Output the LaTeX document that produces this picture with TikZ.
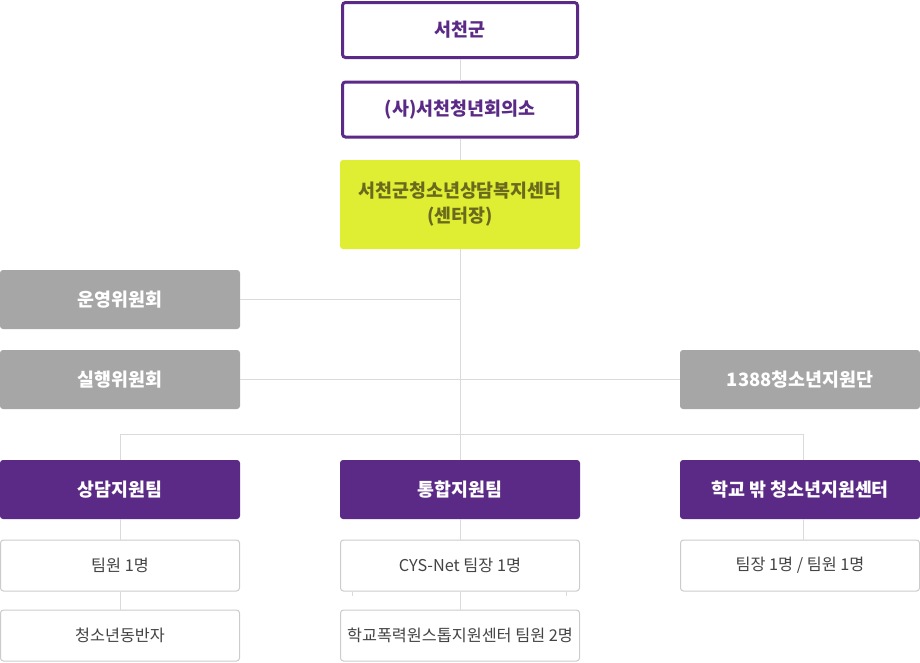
\documentclass[tikz,border=0pt]{standalone}
\usepackage{fontspec}
\setmainfont{Noto Sans CJK KR}
\usetikzlibrary{calc}
\definecolor{purp}{HTML}{5B2A86}
\definecolor{yel}{HTML}{E0EE33}
\definecolor{olive}{HTML}{6A6A1E}
\definecolor{grayb}{HTML}{A6A6A6}
\definecolor{lin}{HTML}{DADADA}
\definecolor{wbd}{HTML}{CCCCCC}
\definecolor{txt}{HTML}{444444}
\tikzset{
  base/.style={rectangle, rounded corners=2.25pt, inner sep=0pt, align=center},
  topbox/.style={base, draw=purp, line width=2.25pt, fill=white, text=purp,
     minimum width=176.25pt, minimum height=41.25pt, font=\fontsize{13.8}{16}\selectfont\bfseries},
  yelbox/.style={base, fill=yel, text=olive, minimum width=180pt, minimum height=66.75pt,
     font=\fontsize{13.8}{18.75}\selectfont\bfseries},
  graybox/.style={base, fill=grayb, text=white, minimum width=180pt, minimum height=44.25pt,
     font=\fontsize{13.8}{16}\selectfont\bfseries},
  teambox/.style={base, fill=purp, text=white, minimum width=180pt, minimum height=44.25pt,
     font=\fontsize{13.8}{16}\selectfont\bfseries},
  membox/.style={base, draw=wbd, line width=0.75pt, fill=white, text=txt,
     minimum width=179.25pt, minimum height=38.25pt, font=\fontsize{12.2}{14}\selectfont},
  conn/.style={draw=lin, line width=0.75pt}
}
\begin{document}
\begin{tikzpicture}[x=0.75pt,y=-0.75pt]
\useasboundingbox (0,0) rectangle (920,662);
\node[topbox] (b1) at (460,30) {서천군};
\node[topbox] (b2) at (460,109.5) {(사)서천청년회의소};
\node[yelbox] (b3) at (460,204.5) {서천군청소년상담복지센터\\(센터장)};
\node[graybox] (g1) at (120,299.5) {운영위원회};
\node[graybox] (g2) at (120,379.5) {실행위원회};
\node[graybox] (g3) at (800,379.5) {1388청소년지원단};
\node[teambox] (t1) at (120,489.5) {상담지원팀};
\node[teambox] (t2) at (460,489.5) {통합지원팀};
\node[teambox] (t3) at (800,489.5) {학교 밖 청소년지원센터};
\node[membox] (w1) at (120,565.5) {팀원 1명};
\node[membox] (w2) at (460,565.5) {CYS-Net 팀장 1명};
\node[membox] (w3) at (800,565.5) {팀장 1명 / 팀원 1명};
\node[membox] (d1) at (120,635.5) {청소년동반자};
\node[membox] (d2) at (460,635.5) {학교폭력원스톱지원센터 팀원 2명};
\coordinate (j) at (460,434);
\draw[conn] (b1.south) -- (b2.north);
\draw[conn] (b2.south) -- (b3.north);
\draw[conn] (b3.south) -- (t2.north);
\draw[conn] (g1.east) -- (g1.east -| b3.south);
\draw[conn] (g2.east) -- (g3.west);
\draw[conn] (t1.north) |- ([xshift=2.25pt]t3.north |- j) -- ([xshift=2.25pt]t3.north);
\draw[conn] (t1.south) -- (w1.north);
\draw[conn] (w1.south) -- (d1.north);
\draw[conn] (t2.south) -- (w2.north);
\draw[conn] (w2.south) -- (d2.north);
\draw[conn] ([xshift=2.25pt]t3.south) -- ([xshift=2.25pt]w3.north);
\draw[conn] ([xshift=-81pt]w2.south) -- ++(0,4);
\draw[conn] ([xshift=79.5pt]w2.south) -- ++(0,4);
\end{tikzpicture}
\end{document}
